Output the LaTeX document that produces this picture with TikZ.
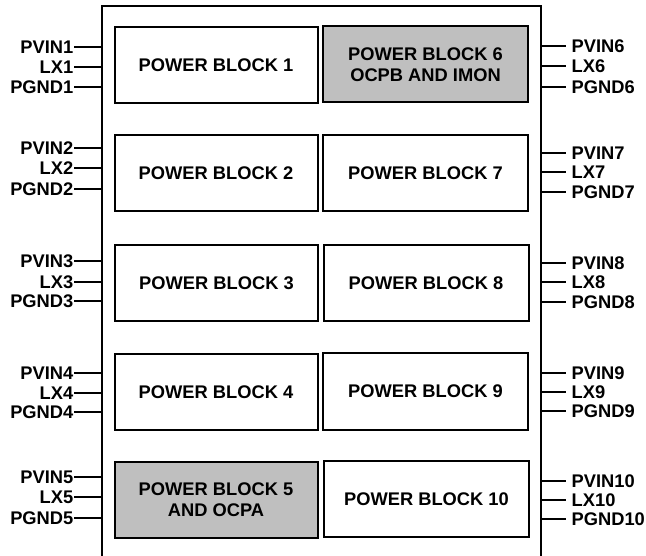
\documentclass[tikz,border=0pt]{standalone}
\usepackage{fontspec}
\setmainfont{Liberation Sans}
\definecolor{blockgray}{RGB}{191,191,191}
\tikzset{
  outerbox/.style={line width=2pt, line cap=rect},
  pblock/.style={draw, line width=2pt, inner sep=0pt, minimum height=76pt, align=center,
    font=\fontsize{18.3}{21}\selectfont\bfseries},
  pblockleft/.style={pblock, minimum width=203pt},
  pblockright/.style={pblock, minimum width=205pt},
  shaded/.style={fill=blockgray},
  pinlbl/.style={inner sep=0.5pt, font=\fontsize{18.3}{20}\selectfont\bfseries},
  pinwire/.style={line width=1.5pt},
  pinwireR/.style={pinwire, shorten >=5pt}
}
\begin{document}
\begin{tikzpicture}[x=1pt,y=-1pt]
\useasboundingbox (0,0) rectangle (646,556);
% outer package outline (open at bottom, cut by the page edge)
\coordinate (obl) at (102,560);
\coordinate (otl) at (102,6);
\coordinate (otr) at (541,6);
\coordinate (obr) at (541,560);
\draw[outerbox] (obl) -- (otl) -- (otr) -- (obr);

% power blocks
\node[pblockleft] (pb1) at (216,65) {POWER BLOCK 1};
\node[pblockleft] (pb2) at (216,173.5) {POWER BLOCK 2};
\node[pblockleft] (pb3) at (216.5,283.5) {POWER BLOCK 3};
\node[pblockleft] (pb4) at (216,392) {POWER BLOCK 4};
\node[pblockleft, shaded] (pb5) at (216,500) {POWER BLOCK 5\\AND OCPA};
\node[pblockright, shaded] (pb6) at (425.5,64.5) {POWER BLOCK 6\\OCPB AND IMON};
\node[pblockright] (pb7) at (425.5,173) {POWER BLOCK 7};
\node[pblockright] (pb8) at (426,283.5) {POWER BLOCK 8};
\node[pblockright] (pb9) at (425.5,391.5) {POWER BLOCK 9};
\node[pblockright] (pb10) at (426.5,499) {POWER BLOCK 10};

% left pins
\foreach \n/\ya/\yb/\yc in {1/47/67/87, 2/148/168/189, 3/261/282/301, 4/373/393/412, 5/477/497/518}{
  \node[pinlbl, anchor=east] (pvinL\n) at (74,\ya) {PVIN\n};
  \node[pinlbl, anchor=east] (lxL\n) at (74,\yb) {LX\n};
  \node[pinlbl, anchor=east] (pgndL\n) at (74,\yc) {PGND\n};
  \coordinate (epvinL\n) at (102,\ya);
  \coordinate (elxL\n) at (102,\yb);
  \coordinate (epgndL\n) at (102,\yc);
  \draw[pinwire] (pvinL\n.east) -- (epvinL\n);
  \draw[pinwire] (lxL\n.east) -- (elxL\n);
  \draw[pinwire] (pgndL\n.east) -- (epgndL\n);
}
% right pins
\foreach \n/\ya/\yb/\yc in {6/46/66/87, 7/153/172/192, 8/263/282/302, 9/373/392/411, 10/481/500/519}{
  \node[pinlbl, anchor=west] (pvinR\n) at (571,\ya) {PVIN\n};
  \node[pinlbl, anchor=west] (lxR\n) at (571,\yb) {LX\n};
  \node[pinlbl, anchor=west] (pgndR\n) at (571,\yc) {PGND\n};
  \coordinate (epvinR\n) at (541,\ya);
  \coordinate (elxR\n) at (541,\yb);
  \coordinate (epgndR\n) at (541,\yc);
  \draw[pinwireR] (epvinR\n) -- (pvinR\n.west);
  \draw[pinwireR] (elxR\n) -- (lxR\n.west);
  \draw[pinwireR] (epgndR\n) -- (pgndR\n.west);
}
\end{tikzpicture}
\end{document}
